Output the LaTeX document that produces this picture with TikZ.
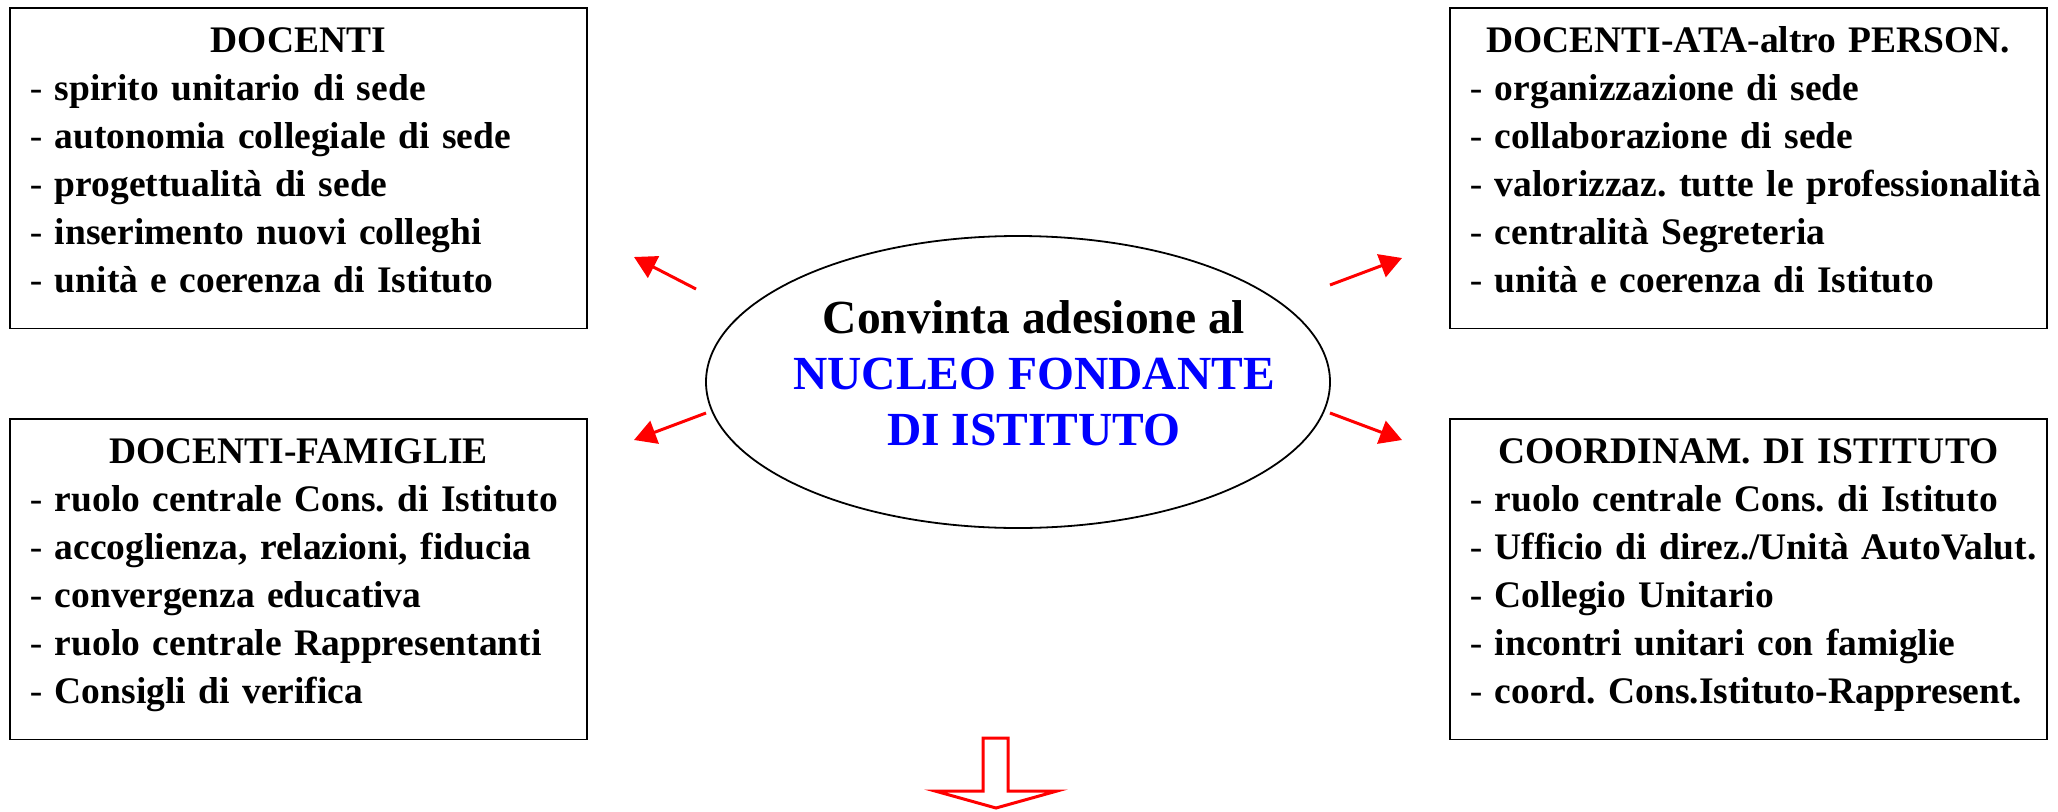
\documentclass[tikz,border=0pt]{standalone}
\usepackage{fontspec}
\setmainfont{Liberation Serif}
\usepackage{tikz}
\usetikzlibrary{arrows.meta,positioning,shapes.geometric}
\frenchspacing
\tikzset{
    %Define standard arrow tip
    >={Triangle[length=22pt,width=24pt]},
    %Define style for boxes
    panel/.style={
           rectangle,
           draw=black, line width=1.8pt,
           anchor=north west,
           inner xsep=20pt, inner ysep=11pt,
           font=\fontsize{37.5}{48}\selectfont\bfseries,
           align=left},
    hub/.style={
           ellipse,
           draw=black, line width=1.8pt,
           minimum width=624pt,
           minimum height=292pt,
           inner sep=0pt},
    % Define arrow style
    pil/.style={
           ->,
           color=red,
           line width=3pt},
    blockarrow/.style={
           draw=red, line width=3pt,
           fill=white, line join=miter}
}
% one line of a box
\newcommand{\voce}[1]{\\\mbox{{\mdseries -}\ #1}}
\newcommand{\titolo}[1]{\makebox[\linewidth]{\strut #1}}

\begin{document}
\begin{tikzpicture}[x=1pt,y=-1pt]
\useasboundingbox (0,0) rectangle (2058,811);

\node[panel, text width=537pt](docenti) at (9,7){\titolo{DOCENTI}%
  \voce{spirito unitario di sede}%
  \voce{autonomia collegiale di sede}%
  \voce{progettualità di sede}%
  \voce{inserimento nuovi colleghi}%
  \voce{unità e coerenza di Istituto}\rule[-25pt]{0pt}{25pt}};
\node[panel, text width=537pt](famiglie) at (9,418){\titolo{DOCENTI-FAMIGLIE}%
  \voce{ruolo centrale Cons. di Istituto}%
  \voce{accoglienza, relazioni, fiducia}%
  \voce{convergenza educativa}%
  \voce{ruolo centrale Rappresentanti}%
  \voce{Consigli di verifica}\rule[-25pt]{0pt}{25pt}};
\node[panel, text width=557pt](personale) at (1449,7){\titolo{DOCENTI-ATA-altro PERSON.}%
  \voce{organizzazione di sede}%
  \voce{collaborazione di sede}%
  \voce{valorizzaz. tutte le professionalità}%
  \voce{centralità Segreteria}%
  \voce{unità e coerenza di Istituto}\rule[-25pt]{0pt}{25pt}};
\node[panel, text width=557pt](coordinam) at (1449,418){\titolo{COORDINAM. DI ISTITUTO}%
  \voce{ruolo centrale Cons. di Istituto}%
  \voce{Ufficio di direz./Unità AutoValut.}%
  \voce{Collegio Unitario}%
  \voce{incontri unitari con famiglie}%
  \voce{coord. Cons.Istituto-Rappresent.}\rule[-25pt]{0pt}{25pt}};

\node[hub](nucleo) at (1018,382){};
\node[font=\fontsize{47.5}{56}\selectfont\bfseries, align=center](adesione) at (1034,373)
  {Convinta adesione al\\\textcolor{blue}{NUCLEO FONDANTE}\\\textcolor{blue}{DI ISTITUTO}};

\coordinate (ulA) at (696,289);
\coordinate (ulB) at (634,257);
\coordinate (llA) at (706,413);
\coordinate (llB) at (634,440);
\coordinate (urA) at (1330,285);
\coordinate (urB) at (1402,258);
\coordinate (lrA) at (1330,413);
\coordinate (lrB) at (1402,440);

\draw[pil] (ulA) -- (ulB);
\draw[pil] (llA) -- (llB);
\draw[pil] (urA) -- (urB);
\draw[pil] (lrA) -- (lrB);

\draw[blockarrow] (983,738) -- (983,791) -- (935,791) -- (996,808)
  -- (1057,791) -- (1008,791) -- (1008,738) -- cycle;
\end{tikzpicture}
\end{document}
